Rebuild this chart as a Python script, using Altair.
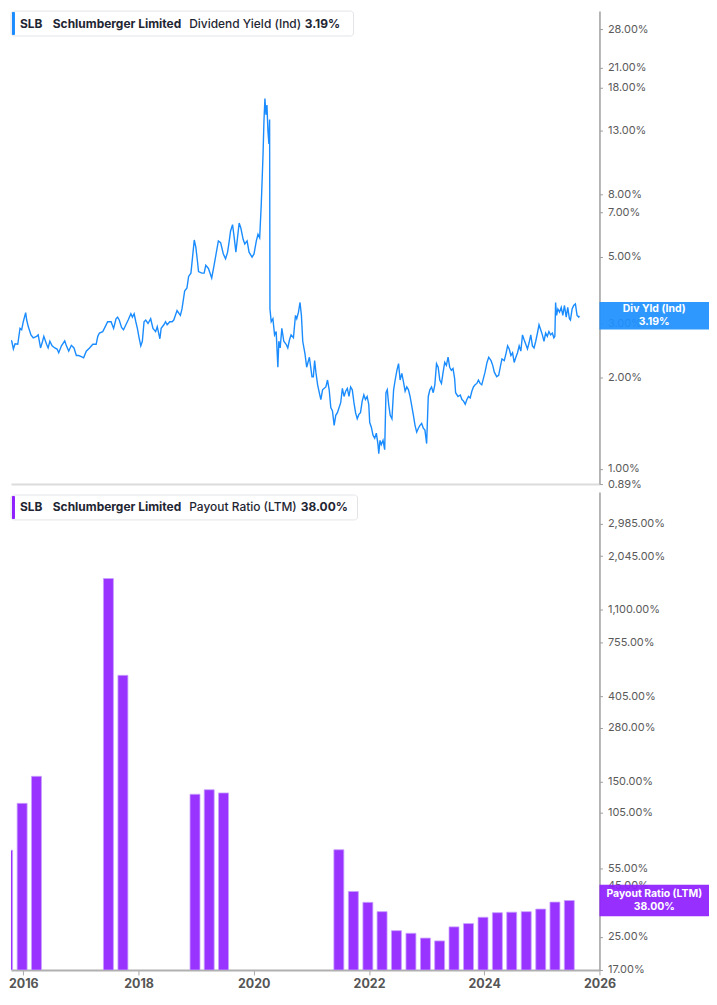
import math
import altair as alt
import pandas as pd

# ---------------- data ----------------
# Dividend yield (Ind), % — sample dates as decimal years
dy_years = [
    2015.685, 2015.731, 2015.742, 2015.766, 2015.800, 2015.828, 2015.857, 2015.904, 2015.943, 2015.972,
    2016.000, 2016.041, 2016.059, 2016.086, 2016.133, 2016.172, 2016.231, 2016.258, 2016.299, 2016.334,
    2016.356, 2016.403, 2016.430, 2016.460, 2016.499, 2016.546, 2016.585, 2016.614, 2016.661, 2016.718,
    2016.747, 2016.787, 2016.833, 2016.878, 2016.919, 2016.959, 2017.005, 2017.045, 2017.091, 2017.148,
    2017.205, 2017.263, 2017.291, 2017.320, 2017.377, 2017.406, 2017.463, 2017.522, 2017.566, 2017.608,
    2017.635, 2017.664, 2017.704, 2017.738, 2017.780, 2017.819, 2017.866, 2017.893, 2017.923, 2017.952,
    2017.979, 2018.009, 2018.038, 2018.065, 2018.095, 2018.124, 2018.164, 2018.210, 2018.250, 2018.296,
    2018.324, 2018.370, 2018.392, 2018.439, 2018.468, 2018.496, 2018.542, 2018.582,
    2018.611, 2018.668, 2018.726, 2018.754, 2018.800, 2018.840, 2018.869, 2018.909, 2018.926, 2018.967,
    2018.995, 2019.024, 2019.041, 2019.098, 2019.139, 2019.167, 2019.213, 2019.270, 2019.311, 2019.346,
    2019.386, 2019.425, 2019.472, 2019.511, 2019.546, 2019.575, 2019.597, 2019.632, 2019.661, 2019.690,
    2019.718, 2019.747, 2019.776, 2019.816, 2019.845, 2019.885, 2019.919, 2019.971, 2020.005, 2020.045,
    2020.074, 2020.103, 2020.131, 2020.160, 2020.177, 2020.194, 2020.212, 2020.229, 2020.246, 2020.263,
    2020.275, 2020.281, 2020.303, 2020.332, 2020.361, 2020.389, 2020.418, 2020.435, 2020.458, 2020.487,
    2020.521, 2020.561, 2020.590, 2020.620, 2020.647, 2020.688, 2020.723, 2020.745, 2020.775, 2020.802,
    2020.826, 2020.849, 2020.888, 2020.917, 2020.964, 2021.009,
    2021.033, 2021.055, 2021.077, 2021.107, 2021.136, 2021.163, 2021.193, 2021.222, 2021.250, 2021.279,
    2021.308, 2021.336, 2021.365, 2021.394, 2021.422, 2021.451, 2021.480, 2021.508, 2021.537, 2021.566,
    2021.594, 2021.623, 2021.652, 2021.680, 2021.709, 2021.738, 2021.766, 2021.795, 2021.824, 2021.852,
    2021.881, 2021.910, 2021.938, 2021.967, 2021.995, 2022.012, 2022.040, 2022.069, 2022.099, 2022.127,
    2022.156, 2022.169, 2022.191, 2022.213, 2022.243, 2022.272, 2022.294, 2022.317, 2022.341, 2022.368,
    2022.398, 2022.427, 2022.454, 2022.484, 2022.513, 2022.540, 2022.570, 2022.599, 2022.627, 2022.656,
    2022.685, 2022.713, 2022.742, 2022.771, 2022.799, 2022.828, 2022.857, 2022.885, 2022.914, 2022.943,
    2022.971, 2023.001, 2023.029, 2023.057,
    2023.086, 2023.115, 2023.143, 2023.172, 2023.201, 2023.229, 2023.258, 2023.287, 2023.315, 2023.344,
    2023.373, 2023.401, 2023.430, 2023.459, 2023.487, 2023.504, 2023.545, 2023.585, 2023.614, 2023.642,
    2023.671, 2023.700, 2023.728, 2023.757, 2023.786, 2023.814, 2023.843, 2023.873, 2023.900, 2023.929,
    2023.958, 2023.986, 2024.015, 2024.049, 2024.079, 2024.119, 2024.148, 2024.176, 2024.217, 2024.251,
    2024.279, 2024.308, 2024.348, 2024.377, 2024.406, 2024.434, 2024.463, 2024.492, 2024.520, 2024.549,
    2024.578, 2024.606, 2024.635, 2024.664, 2024.692, 2024.721, 2024.750, 2024.778, 2024.807, 2024.836,
    2024.864, 2024.893, 2024.923, 2024.950, 2024.979, 2025.008, 2025.036, 2025.065, 2025.094, 2025.122,
    2025.151, 2025.181, 2025.208, 2025.225, 2025.238, 2025.255, 2025.277, 2025.306, 2025.336, 2025.363,
    2025.392, 2025.422, 2025.449, 2025.478, 2025.496, 2025.525, 2025.552, 2025.582, 2025.611, 2025.639,
    2025.651,
]
dy_values = [
    2.73, 2.66, 2.94, 2.66, 2.63, 2.48, 2.58, 2.57, 2.90, 2.87,
    3.05, 3.27, 3.09, 2.94, 2.76, 2.70, 2.73, 2.76, 2.50, 2.63,
    2.73, 2.57, 2.50, 2.63, 2.54, 2.50, 2.48, 2.41, 2.54, 2.64,
    2.54, 2.44, 2.55, 2.50, 2.36, 2.36, 2.34, 2.32, 2.44, 2.50,
    2.57, 2.57, 2.73, 2.80, 2.83, 2.90, 3.05, 3.05, 2.90, 3.12,
    3.16, 3.09, 2.92, 2.87, 2.98, 3.09, 3.24, 3.16, 3.24, 3.05,
    2.90, 2.70, 2.54, 2.63, 3.05, 3.09, 3.01, 3.12, 2.90, 2.83,
    2.94, 2.68, 2.90, 2.98, 3.05, 2.98, 3.05, 3.05,
    3.09, 3.32, 3.20, 3.36, 3.85, 3.94, 4.30, 4.41, 4.74, 5.67,
    5.36, 4.80, 4.46, 4.41, 4.41, 4.68, 4.57, 4.25, 4.68, 5.10,
    5.63, 5.56, 5.10, 4.92, 5.17, 5.63, 6.06, 6.37, 5.77, 5.17,
    5.77, 6.45, 6.21, 5.70, 5.50, 5.63, 5.17, 4.98, 5.10, 5.63,
    5.92, 5.77, 7.47, 10.66, 13.97, 16.59, 14.67, 15.79, 12.98, 11.76,
    14.14, 3.36, 3.05, 3.12, 2.76, 2.83, 2.16, 2.63, 2.50, 2.90,
    2.63, 2.57, 2.50, 2.66, 2.76, 2.70, 3.20, 3.12, 3.28, 3.53,
    3.20, 2.63, 2.39, 2.16, 2.33, 2.01,
    2.01, 2.27, 2.08, 1.89, 1.78, 1.69, 1.82, 1.84, 1.86, 1.96,
    1.82, 1.59, 1.55, 1.39, 1.50, 1.53, 1.59, 1.65, 1.84, 1.73,
    1.80, 1.84, 1.73, 1.86, 1.82, 1.65, 1.53, 1.46, 1.51, 1.53,
    1.67, 1.75, 1.69, 1.73, 1.63, 1.42, 1.37, 1.29, 1.26, 1.31,
    1.20, 1.12, 1.24, 1.20, 1.24, 1.155, 1.78, 1.82, 1.63, 1.50,
    1.46, 1.82, 1.96, 2.11, 2.22, 1.96, 2.06, 1.93, 1.80, 1.86,
    1.82, 1.73, 1.61, 1.50, 1.39, 1.32, 1.36, 1.39, 1.41, 1.36,
    1.34, 1.21, 1.73, 1.82,
    1.86, 1.78, 1.89, 2.22, 2.16, 1.96, 1.91, 2.08, 2.24, 2.19,
    2.33, 2.16, 2.11, 2.14, 1.98, 1.78, 1.73, 1.75, 1.69, 1.67,
    1.63, 1.69, 1.73, 1.71, 1.80, 1.86, 1.89, 1.91, 1.96, 1.91,
    1.89, 1.98, 2.08, 2.24, 2.33, 2.27, 2.19, 2.08, 2.01, 2.03,
    2.16, 2.30, 2.27, 2.39, 2.54, 2.48, 2.36, 2.41, 2.24, 2.33,
    2.41, 2.54, 2.44, 2.76, 2.66, 2.57, 2.48, 2.60, 2.76, 2.54,
    2.50, 2.63, 2.80, 2.98, 2.87, 2.76, 2.63, 2.80, 2.73, 2.83,
    2.76, 2.80, 2.70, 2.73, 3.53, 3.20, 3.36, 3.28, 3.40, 3.20,
    3.45, 3.16, 3.40, 3.12, 3.09, 3.36, 3.45, 3.49, 3.20, 3.16,
    3.19,
]
assert len(dy_years) == len(dy_values), (len(dy_years), len(dy_values))

# Payout ratio (LTM), % — quarter ends
pr_dates = [
    "2015-09-30", "2015-12-31", "2016-03-31",
    "2017-06-30", "2017-09-30",
    "2018-12-31", "2019-03-31", "2019-06-30",
    "2021-06-30", "2021-09-30", "2021-12-31", "2022-03-31", "2022-06-30",
    "2022-09-30", "2022-12-31", "2023-03-31", "2023-06-30", "2023-09-30",
    "2023-12-31", "2024-03-31", "2024-06-30", "2024-09-30", "2024-12-31",
    "2025-03-31", "2025-06-30",
]
pr_values = [
    68, 117, 160,
    1580, 515,
    130, 137, 132,
    68.4, 42.2, 37.2, 33.4, 26.8,
    26.0, 24.6, 23.8, 28.0, 29.1,
    31.3, 33.0, 33.2, 33.4, 34.4,
    37.3, 38.0,
]

top_ticks = [0.89, 1, 2, 3, 5, 7, 8, 13, 18, 21, 28]
bottom_ticks = [17, 25, 45, 55, 105, 150, 280, 405, 755, 1100, 2045, 2985]
year_ticks = [2016, 2018, 2020, 2022, 2024, 2026]

last_yield = 3.19
last_payout = 38.00


def to_ts(y):
    yr = int(math.floor(y))
    start = pd.Timestamp(yr, 1, 1)
    end = pd.Timestamp(yr + 1, 1, 1)
    return (start + (end - start) * (y - yr)).strftime("%Y-%m-%dT%H:%M:%S")


dy_df = pd.DataFrame({"date": [to_ts(y) for y in dy_years], "value": dy_values})
pr_df = pd.DataFrame({"date": [d + "T00:00:00" for d in pr_dates], "value": pr_values})
one = pd.DataFrame({"k": [0]})

# ---------------- styling ----------------
W = 591          # plot width (page x 8 .. 599)
BOX_W = 110      # right-hand value tag width (to the page edge)
H_TOP = 475
H_BOT = 480
BLUE = "#1a8cff"
BOX_BLUE = "#1e90ff"
PURPLE = "#9933ff"
BOX_PURPLE = "#8f1fff"
TXT = "#1f2633"
FONT = "Inter"
LEG_SIZE = 12

x_domain = [alt.DateTime(year=2015, month=10, date=15), alt.DateTime(year=2026, month=1, date=1)]
label_expr = "format(datum.value, ',.2f') + '%'"


def y_axis(ticks):
    return alt.Axis(
        orient="right", values=ticks, labelExpr=label_expr, title=None, grid=False,
        tickSize=3, tickColor="#9e9e9e", domainColor="#9e9e9e", domainWidth=1.5,
        labelColor="#5a5a5a", labelFont=FONT, labelFontSize=11, labelPadding=5,
        labelOverlap=False, labelBound=False,
    )


def txt(s, x, y, weight="bold", size=LEG_SIZE, color=TXT):
    return alt.Chart(one).mark_text(
        align="left", baseline="middle", font=FONT, fontSize=size, fontWeight=weight, color=color
    ).encode(x=alt.value(x), y=alt.value(y), text=alt.value(s))


def legend_box(y0, y1, x1, accent):
    box = alt.Chart(one).mark_rect(
        fill="white", stroke="#e2e4e8", strokeWidth=1, cornerRadius=3
    ).encode(x=alt.value(0), x2=alt.value(x1), y=alt.value(y0), y2=alt.value(y1))
    bar = alt.Chart(one).mark_rect(fill=accent, cornerRadius=1).encode(
        x=alt.value(1), x2=alt.value(4), y=alt.value(y0 + 1), y2=alt.value(y1 - 1)
    )
    return box + bar


def value_tag(value, k, color, line1, line2):
    box = alt.Chart(one).mark_rect(fill=color, opacity=0.93).encode(
        x=alt.value(W), x2=alt.value(W + BOX_W),
        y=alt.datum(value * k), y2=alt.datum(value / k),
    )
    t1 = alt.Chart(one).mark_text(
        align="center", baseline="middle", font=FONT, fontSize=10.5, fontWeight="bold", color="white", dy=-6.5
    ).encode(x=alt.value(W + BOX_W / 2), y=alt.datum(value), text=alt.value(line1))
    t2 = alt.Chart(one).mark_text(
        align="center", baseline="middle", font=FONT, fontSize=10.5, fontWeight="bold", color="white", dy=6.5
    ).encode(x=alt.value(W + BOX_W / 2), y=alt.datum(value), text=alt.value(line2))
    return box + t1 + t2


# ---------------- top panel: dividend yield ----------------
x_top = alt.X(
    "date:T", scale=alt.Scale(domain=x_domain, padding=0),
    axis=alt.Axis(labels=False, ticks=False, title=None, grid=False, domainColor="#dcdcdc", domainWidth=2),
)
line = alt.Chart(dy_df).mark_line(color=BLUE, strokeWidth=1.4, clip=True).encode(
    x=x_top,
    y=alt.Y("value:Q", scale=alt.Scale(type="log", domain=[0.89, 32.2], nice=False), axis=y_axis(top_ticks)),
)

top_legend = (
    legend_box(0, 25, 344, BLUE)
    + txt("SLB", 9, 12.5)
    + txt("Schlumberger Limited", 42, 12.5)
    + txt("Dividend Yield (Ind)", 179, 12.5, weight=500)
    + txt(f"{last_yield:.2f}%", 295, 12.5)
)

top = alt.layer(
    line,
    value_tag(last_yield, 1.11, BOX_BLUE, "Div Yld (Ind)", f"{last_yield:.2f}%"),
    top_legend,
).properties(width=W, height=H_TOP)

# ---------------- bottom panel: payout ratio ----------------
x_bot = alt.X(
    "date:T", scale=alt.Scale(domain=x_domain, padding=0),
    axis=alt.Axis(
        values=[alt.DateTime(year=y, month=1, date=1) for y in year_ticks], format="%Y", title=None, grid=False,
        tickSize=5, tickColor="#a8a8a8", domainColor="#b0b0b0", domainWidth=2,
        labelColor="#555555", labelFont=FONT, labelFontSize=12.5, labelFontWeight="bold", labelPadding=3,
        labelOverlap=False, labelBound=False, labelFlush=False,
    ),
)
bars = alt.Chart(pr_df).mark_bar(
    color=PURPLE, width=10, xOffset=-1, clip=True, stroke="#c7a0ff", strokeWidth=0.8
).encode(
    x=x_bot,
    y=alt.Y("value:Q", scale=alt.Scale(type="log", domain=[17, 4300], nice=False), axis=y_axis(bottom_ticks)),
    y2=alt.datum(17),
)

bot_legend = (
    legend_box(3, 28, 348, BOX_PURPLE)
    + txt("SLB", 9, 15.5)
    + txt("Schlumberger Limited", 42, 15.5)
    + txt("Payout Ratio (LTM)", 179, 15.5, weight=500)
    + txt(f"{last_payout:.2f}%", 291, 15.5)
)

bottom = alt.layer(
    bars,
    value_tag(last_payout, 1.20, BOX_PURPLE, "Payout Ratio (LTM)", f"{last_payout:.2f}%"),
    bot_legend,
).properties(width=W, height=H_BOT)

chart = (
    alt.vconcat(top, bottom, spacing=3)
    .properties(padding=0, background="white")
    .configure_view(strokeWidth=0)
)

chart.save("out.html", embed_options={"renderer": "svg", "actions": False})
